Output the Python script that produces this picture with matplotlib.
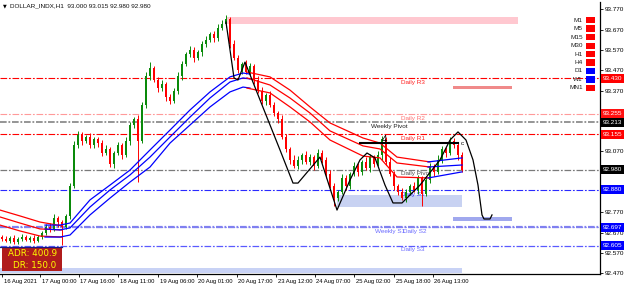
import matplotlib
matplotlib.use('Agg')
import matplotlib.pyplot as plt
import matplotlib.transforms as mtransforms
from matplotlib.patches import Rectangle
import numpy as np

FONT = ['Liberation Sans', 'DejaVu Sans']
plt.rcParams['font.family'] = FONT
FS = 4.6

# ---- candles (H1), one every bar, open = previous close ----
first_open = 92.650
closes = [92.640, 92.630, 92.645, 92.625, 92.640, 92.650, 92.635, 92.645, 92.630, 92.650,
          92.670, 92.700, 92.690, 92.740, 92.720, 92.700, 92.750, 92.900, 93.100, 93.150,
          93.120, 93.140, 93.100, 93.130, 93.110, 93.060, 93.080, 93.010, 93.060, 93.100,
          93.050, 93.120, 93.200, 93.230, 93.120, 93.300, 93.440, 93.480, 93.420, 93.380,
          93.400, 93.340, 93.320, 93.370, 93.440, 93.500, 93.550, 93.570, 93.530, 93.560,
          93.600, 93.620, 93.650, 93.630, 93.680, 93.700, 93.720, 93.600, 93.530, 93.470,
          93.500, 93.460, 93.490, 93.420, 93.370, 93.320, 93.350, 93.300, 93.260, 93.230,
          93.140, 93.080, 93.030, 93.000, 93.030, 93.050, 93.020, 93.040, 93.000, 93.060,
          93.030, 92.960, 92.900, 92.840, 92.870, 92.940, 92.900, 92.960, 93.000, 92.970,
          93.020, 92.990, 93.040, 93.010, 93.050, 93.130, 93.020, 92.960, 92.900, 92.870,
          92.840, 92.870, 92.900, 92.880, 92.940, 92.860, 92.930, 93.000, 92.970, 93.030,
          93.080, 93.060, 93.120, 93.100, 93.050, 92.980]
wick_up = [0.010, 0.012, 0.008, 0.015, 0.010, 0.012, 0.010, 0.008, 0.012, 0.010,
           0.010, 0.012, 0.015, 0.020, 0.010, 0.012, 0.010, 0.015, 0.020, 0.020,
           0.015, 0.010, 0.020, 0.012, 0.010, 0.015, 0.020, 0.010, 0.012, 0.015,
           0.010, 0.020, 0.015, 0.010, 0.020, 0.015, 0.020, 0.030, 0.010, 0.015,
           0.020, 0.010, 0.015, 0.010, 0.020, 0.015, 0.010, 0.020, 0.015, 0.010,
           0.015, 0.020, 0.010, 0.015, 0.020, 0.015, 0.020, 0.010, 0.020, 0.015,
           0.010, 0.020, 0.015, 0.010, 0.020, 0.015, 0.010, 0.020, 0.015, 0.010,
           0.020, 0.015, 0.010, 0.020, 0.015, 0.010, 0.020, 0.015, 0.010, 0.020,
           0.015, 0.010, 0.020, 0.015, 0.010, 0.020, 0.015, 0.010, 0.020, 0.015,
           0.010, 0.020, 0.015, 0.010, 0.020, 0.015, 0.010, 0.020, 0.015, 0.010,
           0.020, 0.015, 0.010, 0.020, 0.015, 0.010, 0.020, 0.015, 0.010, 0.020,
           0.015, 0.010, 0.020, 0.015, 0.010, 0.015]
wick_dn = [0.010, 0.008, 0.012, 0.010, 0.012, 0.010, 0.008, 0.012, 0.010, 0.008,
           0.012, 0.010, 0.015, 0.010, 0.020, 0.090, 0.012, 0.015, 0.010, 0.015,
           0.020, 0.010, 0.015, 0.012, 0.020, 0.015, 0.010, 0.015, 0.020, 0.010,
           0.015, 0.010, 0.020, 0.015, 0.200, 0.010, 0.015, 0.020, 0.010, 0.015,
           0.010, 0.020, 0.015, 0.010, 0.015, 0.020, 0.010, 0.015, 0.020, 0.010,
           0.020, 0.015, 0.010, 0.020, 0.015, 0.010, 0.015, 0.020, 0.010, 0.015,
           0.020, 0.010, 0.015, 0.020, 0.010, 0.015, 0.020, 0.010, 0.015, 0.020,
           0.010, 0.015, 0.020, 0.010, 0.015, 0.020, 0.010, 0.015, 0.020, 0.010,
           0.015, 0.020, 0.010, 0.040, 0.015, 0.010, 0.020, 0.015, 0.010, 0.020,
           0.015, 0.010, 0.020, 0.015, 0.010, 0.020, 0.015, 0.010, 0.020, 0.015,
           0.010, 0.020, 0.015, 0.010, 0.020, 0.060, 0.010, 0.015, 0.020, 0.010,
           0.015, 0.020, 0.010, 0.015, 0.020, 0.010]

# ---- moving average envelopes (x in bars) ----
red1_x = [0, 5, 10, 15.5]
red1_up = [92.781, 92.752, 92.722, 92.703]
red1_mid = [92.747, 92.717, 92.688, 92.683]
red1_lo = [92.707, 92.678, 92.653, 92.648]

blue1_x = [11.25, 15, 17.5, 22.5, 27.5, 32.5, 37.5, 42.5, 47.5, 52.5, 57.5, 60.75, 62.5]
blue1_up = [92.707, 92.707, 92.717, 92.831, 92.904, 92.978, 93.077, 93.175, 93.274, 93.363, 93.437, 93.456, 93.451]
blue1_mid = [92.688, 92.683, 92.693, 92.796, 92.880, 92.954, 93.042, 93.141, 93.239, 93.333, 93.412, 93.432, 93.427]
blue1_lo = [92.648, 92.648, 92.658, 92.757, 92.840, 92.919, 92.993, 93.111, 93.200, 93.289, 93.363, 93.387, 93.382]

red2_x = [61.75, 67.5, 72.5, 77.5, 82.5, 90.75, 95, 99.25, 107.5]
red2_up = [93.461, 93.437, 93.372, 93.289, 93.210, 93.136, 93.111, 93.042, 93.018]
red2_mid = [93.432, 93.397, 93.333, 93.259, 93.171, 93.097, 93.082, 93.013, 92.993]
red2_lo = [93.382, 93.358, 93.289, 93.215, 93.126, 93.047, 93.038, 92.944, 92.939]

blue2_x = [107, 111.25, 115.5]
blue2_up = [93.018, 93.028, 93.038]
blue2_mid = [92.993, 92.998, 93.003]
blue2_lo = [92.939, 92.954, 92.969]

# ---- hand drawn path ----
path_x = [56.5, 57.5, 58.5, 59.5, 61.25, 65.5, 70, 73.25, 74.5, 80, 84.25, 87.5, 90, 91.75,
          93.75, 96.25, 98.25, 100.5, 105, 110, 112.5, 114.5, 116.5, 118.25, 119.5, 120.5,
          121, 122.5, 123]
path_p = [93.707, 93.570, 93.432, 93.422, 93.510, 93.299, 93.077, 92.914, 92.914, 93.042,
          92.781, 92.929, 93.028, 93.062, 93.038, 92.904, 92.816, 92.816, 92.904, 93.028,
          93.126, 93.166, 93.126, 93.028, 92.904, 92.757, 92.737, 92.737, 92.757]

# ---- pivot levels ----
level_names = ['Daily R3', 'Daily R2', 'Weekly Pivot', 'Daily R1', 'Daily Pivot',
               'Daily S1', 'Weekly S1', 'Daily S2', 'Daily S3']
level_prices = [93.430, 93.255, 93.213, 93.155, 92.980, 92.880, 92.697, 92.697, 92.605]
level_colors = ['#ff0000', '#ff9a9a', '#8c8c8c', '#ff0000', '#7a7a7a',
                '#2a2aff', '#8080f0', '#8080f0', '#5a5aff']
label_colors = ['#ff2020', '#ff7070', '#202020', '#ff2020', '#505050',
                '#2a2aff', '#6a6aff', '#6a6aff', '#6a6aff']
level_widths = [0.8, 0.8, 1.3, 0.8, 0.9, 0.8, 1.6, 0.8, 0.9]
label_x = [103.25, 103.25, 97.25, 103.25, 104, 103.25, 97.5, 103.75, 103.25]

box_prices = [93.430, 93.255, 93.213, 93.155, 92.980, 92.880, 92.697, 92.605]
box_colors = ['#ff0000', '#ff1010', '#000000', '#ff0000', '#000000', '#0000ff', '#0000ff', '#0000ff']

# zones: (x0, x1, p0, p1, colour)
zones = [(56.75, 129.5, 93.697, 93.732, '#ffc8d0'),
         (113.25, 128, 93.377, 93.392, '#f08a8a'),
         (84.25, 115.5, 92.797, 92.856, '#c8d2f2'),
         (113.25, 128, 92.727, 92.747, '#a0a8ee'),
         (0, 115.5, 92.472, 92.496, '#c8d2f5')]

time_pos = [0.5, 10, 19.75, 29.5, 39.5, 49.25, 59.25, 69, 78.75, 88.5, 98.5, 108.25]
time_labels = ['16 Aug 2021', '17 Aug 00:00', '17 Aug 16:00', '18 Aug 11:00', '19 Aug 06:00',
               '20 Aug 01:00', '20 Aug 17:00', '23 Aug 12:00', '24 Aug 07:00', '25 Aug 02:00',
               '25 Aug 18:00', '26 Aug 13:00']
price_ticks = [92.470, 92.570, 92.670, 92.770, 92.870, 92.970, 93.070, 93.170, 93.270,
               93.370, 93.470, 93.570, 93.670, 93.770]
# scale labels that sit fully under a price box
hidden_ticks = [92.870, 92.970, 93.170]

tf_names = ['M1', 'M5', 'M15', 'M30', 'H1', 'H4', 'D1', 'W1', 'MN1']
tf_colors = ['#ff0000'] * 6 + ['#0000ff', '#0000ff', '#ff0000']

GREEN = '#0a8a0a'
RED = '#ff0000'

fig = plt.figure(figsize=(6.25, 2.87), dpi=100)
ax = fig.add_axes([0, 13 / 287, 600 / 625, 272 / 287])
ax.set_xlim(0, 150)
ax.set_ylim(92.466, 93.806)

for x0, x1, p0, p1, col in zones:
    ax.add_patch(Rectangle((x0, p0), x1 - x0, p1 - p0, fc=col, ec='none', zorder=0.5))

for name, p, col, lcol, lw, lx in zip(level_names, level_prices, level_colors,
                                       label_colors, level_widths, label_x):
    k = 0.8 / lw
    ax.axhline(p, color=col, lw=lw, ls=(0, (6 * k, 1.6 * k, 1.6 * k, 1.6 * k)), zorder=1)
    ax.annotate(name, (lx, p), xytext=(0, -1.2), textcoords='offset points',
                ha='center', va='top', fontsize=FS, color=lcol, zorder=2)

# candles
x = np.arange(len(closes)) + 0.5
c = np.array(closes)
o = np.array([first_open] + closes[:-1])
hi = np.maximum(o, c) + np.array(wick_up)
lo = np.minimum(o, c) - np.array(wick_dn)
cols = np.where(c >= o, GREEN, RED)
ax.vlines(x, lo, hi, colors=cols, lw=0.7, zorder=4)
ax.bar(x, np.maximum(np.abs(c - o), 0.004), bottom=np.minimum(o, c), width=0.5,
       color=cols, zorder=4)

# envelopes
for xs, ys, col in [(red1_x, red1_up, RED), (red1_x, red1_mid, RED), (red1_x, red1_lo, RED),
                    (blue1_x, blue1_up, '#0000ff'), (blue1_x, blue1_mid, '#0000ff'),
                    (blue1_x, blue1_lo, '#0000ff'),
                    (red2_x, red2_up, RED), (red2_x, red2_mid, RED), (red2_x, red2_lo, RED),
                    (blue2_x, blue2_up, '#0000ff'), (blue2_x, blue2_mid, '#0000ff'),
                    (blue2_x, blue2_lo, '#0000ff')]:
    ax.plot(xs, ys, color=col, lw=0.9, zorder=5, solid_joinstyle='round')

# drawn path and marks
ax.plot(path_x, path_p, color='black', lw=0.9, zorder=6, solid_joinstyle='round')
ax.plot([90, 114.5], [93.110, 93.110], color='black', lw=1.5, zorder=6)
ax.text(96.25, 93.128, '4', fontsize=7, ha='center', va='center', zorder=7)
ax.text(115.6, 93.108, 'c', fontsize=4.5, ha='center', va='center', zorder=7)

# ADR box
ax.add_patch(Rectangle((0.5, 92.483), 15, 0.114, fc='#b01c1c', ec='none', zorder=8))
ax.plot([0, 15.5], [92.600, 92.600], color='#1a1a80', lw=0.9, zorder=8)
ax.text(2.0, 92.567, 'ADR: 400.9', fontsize=6.3, color='#ffff00', va='center', ha='left',
        zorder=9, family='DejaVu Sans')
ax.text(3.3, 92.510, 'DR: 150.0', fontsize=6.3, color='#ffff00', va='center', ha='left',
        zorder=9, family='DejaVu Sans')

# axes styling
for s in ['top', 'left']:
    ax.spines[s].set_visible(False)
ax.spines['right'].set_linewidth(0.9)
ax.spines['bottom'].set_linewidth(0.9)
ax.yaxis.tick_right()
ax.set_yticks(price_ticks)
ax.set_yticklabels(['' if t in hidden_ticks else '%.3f' % t for t in price_ticks])
ax.tick_params(axis='y', length=2.2, width=0.6, pad=1, labelsize=FS)
ax.set_xticks(time_pos)
ax.set_xticklabels(time_labels, ha='left')
ax.tick_params(axis='x', length=2.2, width=0.6, pad=1.5, labelsize=4.2)
off = mtransforms.ScaledTranslation(1.5 / 100, 0, fig.dpi_scale_trans)
for lab in ax.get_xticklabels():
    lab.set_transform(lab.get_transform() + off)

# price boxes on right scale
bt = mtransforms.blended_transform_factory(ax.transAxes, ax.transData)
for p, col in zip(box_prices, box_colors):
    ax.add_patch(Rectangle((1.0015, p - 0.022), 0.038, 0.044, fc=col, ec='none',
                           transform=bt, clip_on=False, zorder=10))
    ax.text(1.004, p, '%.3f' % p, transform=bt, color='white', fontsize=FS,
            ha='left', va='center', zorder=11, clip_on=False)

# timeframe panel
tf_y = [20, 28.5, 37, 45.5, 54, 62.5, 71, 79.5, 88]
for name, yy, col in zip(tf_names, tf_y, tf_colors):
    fig.text(583 / 625, 1 - yy / 287, name, fontsize=FS, ha='right', va='center',
             color='#202020')
    fig.patches.append(Rectangle((586 / 625, 1 - (yy + 3) / 287), 9 / 625, 6 / 287,
                                 fc=col, ec='none', transform=fig.transFigure, figure=fig))

# title
fig.text(3 / 625, 1 - 6 / 287, '\u25bc', fontsize=3.5, ha='left', va='center',
         family='DejaVu Sans')
fig.text(10 / 625, 1 - 6 / 287, 'DOLLAR_INDX,H1  93.000 93.015 92.980 92.980',
         fontsize=FS, ha='left', va='center', color='#101010')

fig.savefig('out.png', dpi=100)
